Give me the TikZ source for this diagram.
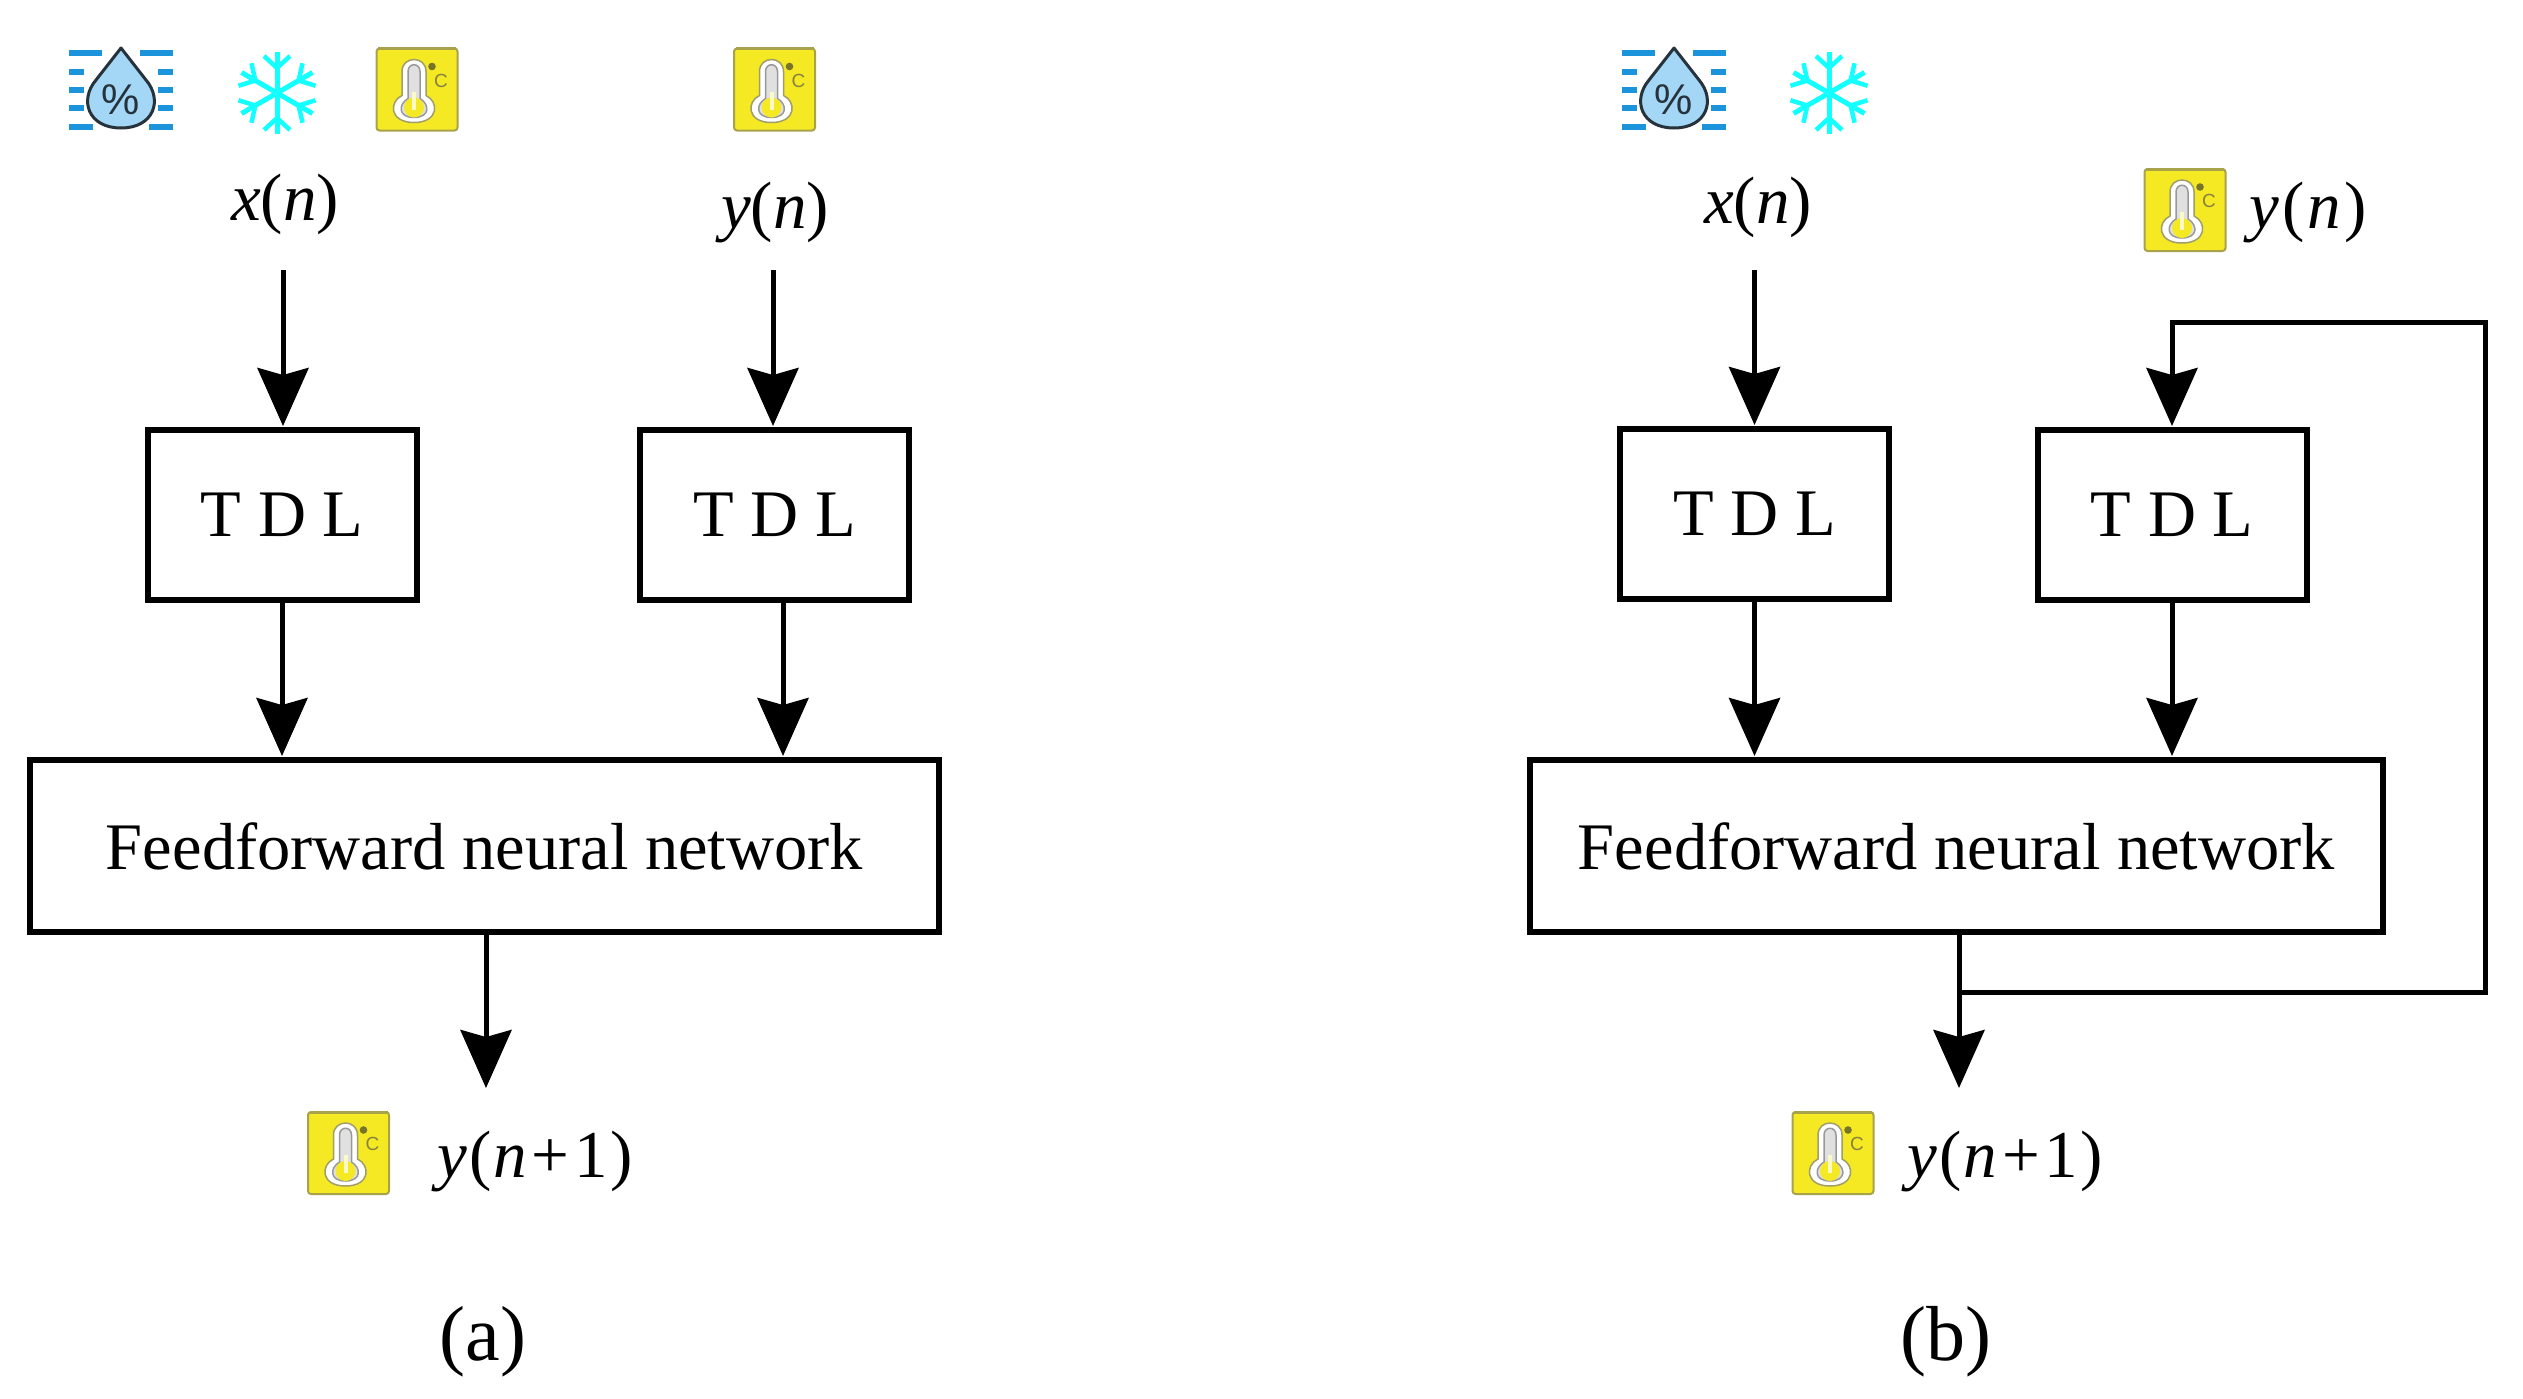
\documentclass[tikz,border=0pt]{standalone}
\usepackage{fontspec}
\setmainfont{Liberation Serif}
\newfontfamily\iconfont{Liberation Sans}
\usetikzlibrary{arrows.meta,calc}
\definecolor{tyellow}{HTML}{F4E923}
\definecolor{tedge}{HTML}{A8A24A}
\definecolor{tdark}{HTML}{77742A}
\definecolor{linebl}{HTML}{1C94DB}
\definecolor{dropfill}{HTML}{A3D7F5}
\definecolor{dropline}{HTML}{26323C}
\definecolor{flakecol}{HTML}{14FFFF}
\tikzset{
  x=1pt,y=-1pt,
  tdlbox/.style={draw=black,line width=6pt,minimum width=269pt,minimum height=170pt,inner sep=0pt,font=\fontsize{66.5}{70}\selectfont},
  fnnbox/.style={draw=black,line width=6pt,minimum height=172pt,inner sep=0pt,font=\fontsize{66.5}{70}\selectfont},
  lab/.style={inner sep=0pt,anchor=base,font=\fontsize{67}{70}\selectfont},
  captext/.style={inner sep=0pt,anchor=base,font=\fontsize{78}{80}\selectfont},
  conn/.style={draw=black,line width=5pt,-{Stealth[length=58pt,width=51pt,inset=7pt]},shorten >=1pt},
  thermo/.pic={
    \draw[draw=tedge,fill=tyellow,line width=2pt,rounded corners=3pt] (-40.5,-41) rectangle (40.5,41);
    \draw[draw=tedge,line width=3pt] (-39,-41) -- (39,-41);
    \path[draw=tdark!70,fill=white,line width=1.5pt] (-15,-18) .. controls (-15,-34) and (9,-34) .. (9,-18) -- (9,6)
      .. controls (22,12) and (22,33) .. (-3,33) .. controls (-28,33) and (-28,12) .. (-15,6) -- cycle;
    \path[draw=black!40,fill=black!12,line width=1.5pt] (-9,-18) .. controls (-9,-27) and (3,-27) .. (3,-18) -- (3,9)
      .. controls (13,15) and (13,28) .. (-3,28) .. controls (-19,28) and (-19,15) .. (-9,9) -- cycle;
    \fill[tyellow] (-3,18) circle[radius=10];
    \fill[white!75!tyellow] (-5,2) rectangle (-1,20);
    \fill[tdark] (15,-23) circle[radius=3.8];
    \node[text=tdark!90,inner sep=0pt,font=\iconfont\fontsize{19}{19}\selectfont] at (24,-9) {C};
  },
  drop/.pic={
    \foreach \yy/\xa in {-35/33,-16/15,2/15,20/15,39/24}{
      \draw[linebl,line width=6.5pt] (-52,\yy) -- (-52+\xa,\yy);
      \draw[linebl,line width=6.5pt] (52,\yy) -- (52-\xa,\yy);
    }
    \draw[draw=dropline,fill=dropfill,line width=3pt,line join=round] (0,-40) -- (-25,-8)
      .. controls (-42,12) and (-33,40) .. (0,40) .. controls (33,40) and (42,12) .. (25,-8) -- cycle;
    \node[text=dropline,inner sep=0pt,font=\iconfont\fontsize{43}{43}\selectfont] at (0,12) {\%};
  },
  flake/.pic={
    \foreach \a in {30,90,150,210,270,330}{
      \begin{scope}[rotate=\a]
        \draw[draw=flakecol,line width=5pt] (0,0) -- (41,0);
        \draw[draw=flakecol,line width=4.5pt] (25,0) -- (37,13);
        \draw[draw=flakecol,line width=4.5pt] (25,0) -- (37,-13);
      \end{scope}
    }
  }
}
\begin{document}
\begin{tikzpicture}
\useasboundingbox (0,0) rectangle (2523,1398);
\fill[white] (0,0) rectangle (2523,1398);
% ---- left panel
\node[tdlbox] (tdlA) at (282,515) {T D L};
\node[tdlbox] (tdlB) at (774.5,515) {T D L};
\node[fnnbox,minimum width=909pt] (fnnA) at (484.5,846) {Feedforward neural network};
\pic at (121,88) {drop};
\pic at (277,93) {flake};
\pic at (417,89.5) {thermo};
\pic at (774.5,89.5) {thermo};
\node[lab] (xA) at (285,220) {\textit{x}(\textit{n})};
\node[lab] (yA) at (775,228) {\textit{y}(\textit{n})};
\node[lab] (outA) at (535,1177) {\textit{y}\kern2pt(\kern2pt\textit{n}\kern5pt+\kern5pt1\kern2pt)};
\node[captext] (capA) at (483,1360) {(a)};
\pic at (348.5,1153) {thermo};
\coordinate (sxA) at (283,270);
\coordinate (syA) at (773,270);
\coordinate (soA) at (486,1089);
\coordinate (bA) at (783,603);
\draw[conn] (sxA) -- (sxA |- tdlA.north);
\draw[conn] (syA) -- (syA |- tdlB.north);
\draw[conn] (tdlA.south) -- (tdlA.south |- fnnA.north);
\draw[conn] (bA) -- (bA |- fnnA.north);
\draw[conn] (soA |- fnnA.south) -- (soA);
% ---- right panel
\node[tdlbox] (tdlC) at (1754.5,514) {T D L};
\node[tdlbox] (tdlD) at (2172,515) {T D L};
\node[fnnbox,minimum width=853pt] (fnnB) at (1956.5,846) {Feedforward neural network};
\pic at (1674,88) {drop};
\pic at (1829,93) {flake};
\pic at (2185,210) {thermo};
\node[lab] (xB) at (1758,223) {\textit{x}(\textit{n})};
\node[lab] (yB) at (2308,228) {\textit{y}\kern3pt(\kern3pt\textit{n}\kern3pt)};
\node[lab] (outB) at (2005,1177) {\textit{y}\kern2pt(\kern2pt\textit{n}\kern5pt+\kern5pt1\kern2pt)};
\node[captext] (capB) at (1946,1360) {(b)};
\pic at (1833,1153) {thermo};
\coordinate (sxB) at (1754.5,270);
\coordinate (soB) at (1959,1089);
\coordinate (tap) at (1959,992);
\coordinate (rc) at (2485,992);
\coordinate (rt) at (2485,322);
\draw[conn] (sxB) -- (tdlC.north);
\draw[conn] (tdlC.south) -- (tdlC.south |- fnnB.north);
\draw[conn] (tdlD.south) -- (tdlD.south |- fnnB.north);
\draw[conn] (soB |- fnnB.south) -- (soB);
\draw[conn,line join=miter] (tap) -- (rc) -- (rt) -- (rt -| tdlD.north) -- (tdlD.north);
\end{tikzpicture}
\end{document}
